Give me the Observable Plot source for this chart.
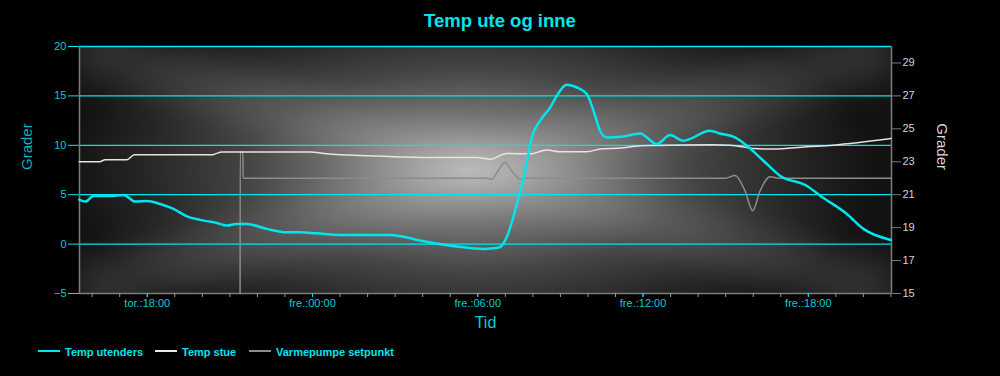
<!DOCTYPE html>
<html>
<head>
<meta charset="utf-8">
<script src="https://cdn.jsdelivr.net/npm/d3@7"></script>
<script src="https://cdn.jsdelivr.net/npm/@observablehq/plot@0.6"></script>
<style>
  html, body { margin: 0; padding: 0; background: #000; }
  #wrap { position: relative; width: 1000px; height: 376px; background: #000; overflow: hidden;
          font-family: "Liberation Sans", Arial, sans-serif; }
  #title { position: absolute; left: 0; top: 11px; width: 1000px; height: 20px; line-height: 20px;
           text-align: center; color: #00e5ee; font-weight: bold; font-size: 18.5px; }
  #chart { position: absolute; left: 0; top: 36px; width: 1000px; height: 300px; }
  .sw { position: absolute; top: 350px; height: 2px; width: 22px; }
  .lt { position: absolute; top: 345px; height: 14px; line-height: 14px; font-size: 11px;
        font-weight: bold; color: #00e5ee; white-space: nowrap; }
</style>
</head>
<body>
<div id="wrap">
  <div id="title">Temp ute og inne</div>
  <div id="chart"></div>
  <div class="sw" style="left:38px;background:#00e5ee"></div>
  <div class="lt" style="left:65px">Temp utenders</div>
  <div class="sw" style="left:155px;background:#e8e8e8"></div>
  <div class="lt" style="left:182px">Temp stue</div>
  <div class="sw" style="left:249px;background:#8c8c8c"></div>
  <div class="lt" style="left:276px">Varmepumpe setpunkt</div>
</div>
<script>
// ---- data (hours counted from Thursday 00:00) ----
const outHours = [15.53, 15.75, 16.05, 16.66, 17.14, 17.56, 17.99, 18.47, 18.95, 19.44, 19.92, 20.53, 20.89, 21.25, 21.62, 22.34, 23.07, 23.55, 24.16, 25.0, 26.82, 28.03, 29.24, 30.21, 30.75, 31.05, 31.42, 31.72, 31.96, 32.26, 32.63, 32.87, 33.23, 33.60, 33.96, 34.20, 34.44, 34.68, 35.29, 35.89, 36.50, 36.98, 37.46, 38.43, 38.79, 39.34, 39.77, 40.37, 40.97, 41.94, 42.43, 43.40, 44.0, 45.0];
const outTemp  = [4.5, 4.3, 4.87, 4.87, 4.97, 4.3, 4.37, 4.06, 3.56, 2.81, 2.45, 2.14, 1.87, 2.04, 2.04, 1.54, 1.19, 1.19, 1.09, 0.93, 0.93, 0.28, -0.25, -0.49, -0.38, 0.69, 4.06, 7.43, 10.8, 12.48, 13.83, 15.01, 16.12, 15.85, 15.18, 13.5, 11.47, 10.8, 10.9, 11.2, 10.13, 11.04, 10.46, 11.47, 11.2, 10.8, 9.96, 8.44, 6.92, 5.91, 4.9, 3.05, 1.54, 0.42];

const stueHours = [15.53, 16.27, 16.47, 17.26, 17.53, 20.35, 20.47, 20.71, 23.91, 24.52, 26.09, 28.38, 29.97, 30.45, 31.05, 31.90, 32.51, 32.99, 33.96, 34.44, 35.17, 35.89, 36.36, 38.54, 39.16, 39.99, 40.72, 41.94, 42.90, 45.0];
const stueTemp  = [23.0, 23.0, 23.12, 23.12, 23.42, 23.42, 23.48, 23.59, 23.59, 23.48, 23.36, 23.26, 23.26, 23.16, 23.50, 23.48, 23.71, 23.61, 23.61, 23.77, 23.83, 23.97, 23.99, 24.03, 24.01, 23.81, 23.77, 23.91, 24.01, 24.41];

const setHours = [21.37, 21.375, 21.47, 21.48, 30.34, 30.51, 30.75, 30.99, 31.25, 31.54, 31.80, 38.98, 39.34, 39.70, 39.98, 40.25, 40.61, 40.95, 45.0];
const setTemp  = [15, 23.6, 23.6, 22.0, 22.0, 21.94, 22.5, 22.95, 22.4, 21.95, 22.0, 22.0, 22.17, 21.24, 20.03, 21.24, 22.09, 22.0, 22.0];

const leftTicks = [-5, 0, 5, 10, 15, 20];
const rightTicks = [15, 17, 19, 21, 23, 25, 27, 29];
const majorHours = [18, 24, 30, 36, 42];
const xTickLabels = ["tor.:18:00", "fre.:00:00", "fre.:06:00", "fre.:12:00", "fre.:18:00"];
const minorHours = d3.range(16, 46);
const xDomain = [15.54, 45.02];
const leftDomain = [-5, 20];
const rightDomain = [15, 30];

// ---- helpers ----
const toLeft = v => leftDomain[0] + (v - rightDomain[0]) * (leftDomain[1] - leftDomain[0]) / (rightDomain[1] - rightDomain[0]);
const fromLeft = v => rightDomain[0] + (v - leftDomain[0]) * (rightDomain[1] - rightDomain[0]) / (leftDomain[1] - leftDomain[0]);

const outData = outHours.map((h, i) => ({h, v: outTemp[i]}));
const stueData = stueHours.map((h, i) => ({h, v: toLeft(stueTemp[i])}));
const setData = setHours.map((h, i) => ({h, v: toLeft(setTemp[i])}));
const armData = [
  {x1: xDomain[0], y1: leftDomain[1], x2: xDomain[1], y2: leftDomain[0]},
  {x1: xDomain[0], y1: leftDomain[0], x2: xDomain[1], y2: leftDomain[1]}
];

const cyan = "#00e5ee";
const cyanText = "#00cdd5";
const axisGray = "#7c7c7c";

const chart = Plot.plot({
  width: 1000, height: 300,
  marginTop: 10, marginBottom: 43, marginLeft: 79, marginRight: 109,
  style: {background: "transparent", fontFamily: "'Liberation Sans', Arial, sans-serif", fontSize: "11px", overflow: "visible"},
  x: {domain: xDomain},
  y: {domain: leftDomain},
  marks: [
    Plot.frame({fill: "url(#bgGlow)", stroke: "none"}),
    Plot.link(armData, {x1: "x1", y1: "y1", x2: "x2", y2: "y2", stroke: "#ffffff", strokeWidth: 55, strokeOpacity: 0.13}),
    Plot.ruleY(leftTicks.filter(t => t > leftDomain[0]), {stroke: cyan, strokeWidth: 1.3}),
    Plot.ruleX(xDomain, {stroke: axisGray, strokeWidth: 1.5}),
    Plot.ruleY([leftDomain[0]], {stroke: axisGray, strokeWidth: 1.5}),
    Plot.line(setData, {x: "h", y: "v", stroke: "#8c8c8c", strokeWidth: 1.5, curve: "monotone-x"}),
    Plot.line(stueData, {x: "h", y: "v", stroke: "#e4e4e4", strokeWidth: 1.5, curve: "monotone-x"}),
    Plot.line(outData, {x: "h", y: "v", stroke: cyan, strokeWidth: 2.5, curve: "monotone-x"}),
    Plot.axisY(leftTicks, {anchor: "left", tickSize: 11, tickPadding: 2, color: cyanText, stroke: cyan, fontSize: 11, label: null}),
    Plot.axisY(rightTicks.map(toLeft), {anchor: "right", tickSize: 9, tickPadding: 2, color: "#d4d4d4", stroke: axisGray, fontSize: 11, label: null, tickFormat: d => String(Math.round(fromLeft(d)))}),
    Plot.axisX(minorHours, {tickSize: 4, stroke: "#9a9a9a", tickFormat: () => "", label: null}),
    Plot.axisX(majorHours, {tickSize: 4, tickPadding: 2, color: cyanText, stroke: cyan, fontSize: 11, label: null, tickFormat: d => xTickLabels[majorHours.indexOf(d)]}),
    Plot.text(["Grader"], {text: d => d, frameAnchor: "left", dx: -52.5, rotate: -90, fill: "#00b4bc", fontSize: 15}),
    Plot.text(["Grader"], {text: d => d, frameAnchor: "right", dx: 50, rotate: 90, fill: "#d8d8d8", fontSize: 15}),
    Plot.text(["Tid"], {text: d => d, frameAnchor: "bottom", dy: 34, fill: cyanText, fontSize: 16})
  ]
});

document.getElementById("chart").appendChild(chart);

// ---- decorative background defs ----
const ns = "http://www.w3.org/2000/svg";
const svg = chart.tagName.toLowerCase() === "svg" ? chart : chart.querySelector("svg");
const xr = chart.scale("x").range, yr = chart.scale("y").range;
const fx = Math.min(...xr), fy = Math.min(...yr), fw = Math.abs(xr[1] - xr[0]), fh = Math.abs(yr[1] - yr[0]);
const defs = document.createElementNS(ns, "defs");
defs.innerHTML = `
  <radialGradient id="bgGlow" cx="0.48" cy="0.5" r="0.5" gradientTransform="translate(0.48 0.5) scale(1 1.5) translate(-0.48 -0.5)">
    <stop offset="0" stop-color="#a6a6a6"/>
    <stop offset="0.25" stop-color="#7a7a7a"/>
    <stop offset="0.55" stop-color="#444444"/>
    <stop offset="0.8" stop-color="#262626"/>
    <stop offset="1" stop-color="#121212"/>
  </radialGradient>
  <filter id="armBlur" x="-20%" y="-50%" width="140%" height="200%">
    <feGaussianBlur stdDeviation="16"/>
  </filter>
  <clipPath id="frameClip"><rect x="${fx}" y="${fy}" width="${fw}" height="${fh}"/></clipPath>`;
svg.insertBefore(defs, svg.firstChild);
const arms = svg.querySelector('g[aria-label="link"]');
if (arms) {
  arms.setAttribute("filter", "url(#armBlur)");
  const wrapG = document.createElementNS(ns, "g");
  wrapG.setAttribute("clip-path", "url(#frameClip)");
  arms.parentNode.insertBefore(wrapG, arms);
  wrapG.appendChild(arms);
}
</script>
</body>
</html>
